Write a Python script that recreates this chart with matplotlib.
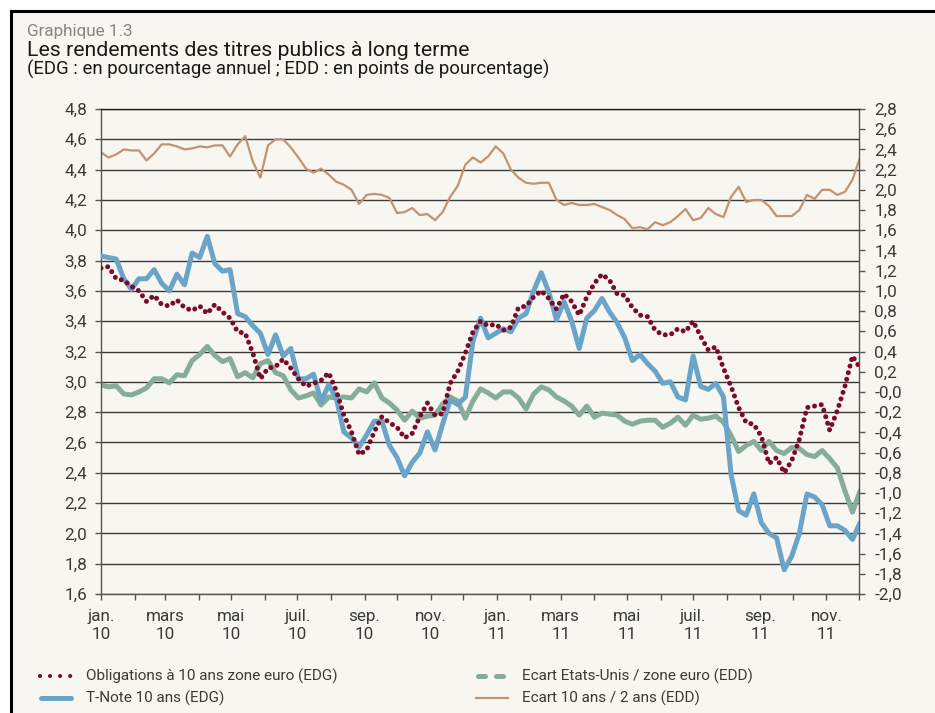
import matplotlib
matplotlib.use("Agg")
import matplotlib.pyplot as plt
import matplotlib.dates as mdates
from matplotlib.lines import Line2D
from matplotlib.patches import Rectangle
from matplotlib.ticker import FixedLocator, FuncFormatter
import numpy as np
import pandas as pd

# weekly observations, jan. 2010 -> dec. 2011
dates = pd.date_range("2010-01-01", periods=101, freq="7D")

# EDG, % annual
euro_10y = [
    3.75, 3.76, 3.68, 3.67, 3.63, 3.60, 3.53, 3.57, 3.51, 3.50,
    3.54, 3.49, 3.47, 3.50, 3.45, 3.51, 3.46, 3.42, 3.33, 3.32,
    3.19, 3.02, 3.09, 3.10, 3.15, 3.09,
    3.02, 2.97, 2.99, 3.01, 3.06, 2.94, 2.78, 2.67, 2.52, 2.55,
    2.67, 2.77, 2.73, 2.70, 2.63, 2.66, 2.77, 2.86, 2.78, 2.79,
    2.99, 3.07, 3.19, 3.33, 3.40,
    3.37, 3.38, 3.34, 3.36, 3.49, 3.50, 3.56, 3.60, 3.55, 3.48,
    3.58, 3.53, 3.44, 3.56, 3.65, 3.71, 3.67, 3.58, 3.57, 3.49,
    3.44, 3.43, 3.34, 3.31, 3.31,
    3.35, 3.33, 3.40, 3.30, 3.21, 3.23, 3.09, 2.97, 2.83, 2.73,
    2.72, 2.64, 2.46, 2.50, 2.40, 2.48, 2.62, 2.83, 2.84, 2.85,
    2.68, 2.81, 2.97, 3.17, 3.09,
]
tnote_10y = [
    3.83, 3.82, 3.81, 3.68, 3.61, 3.68, 3.68, 3.74, 3.65, 3.60,
    3.71, 3.64, 3.85, 3.82, 3.96, 3.78, 3.73, 3.74, 3.45, 3.43,
    3.37, 3.32, 3.18, 3.31, 3.17, 3.22,
    3.02, 3.02, 3.05, 2.87, 2.98, 2.89, 2.67, 2.63, 2.57, 2.65,
    2.74, 2.74, 2.58, 2.50, 2.38, 2.47, 2.53, 2.67, 2.55, 2.72,
    2.88, 2.85, 2.90, 3.27, 3.42,
    3.29, 3.32, 3.35, 3.33, 3.42, 3.45, 3.60, 3.72, 3.59, 3.41,
    3.53, 3.40, 3.22, 3.42, 3.47, 3.55, 3.46, 3.39, 3.29, 3.14,
    3.18, 3.12, 3.07, 2.99, 3.00,
    2.90, 2.88, 3.17, 2.97, 2.95, 2.99, 2.90, 2.39, 2.15, 2.12,
    2.26, 2.07, 2.00, 1.97, 1.76, 1.85, 2.00, 2.26, 2.24, 2.19,
    2.05, 2.05, 2.02, 1.96, 2.07,
]
# EDD, percentage points
spread_us_euro = [
    0.07, 0.05, 0.06, -0.02, -0.03, 0.00, 0.04, 0.13, 0.13, 0.09,
    0.17, 0.16, 0.31, 0.37, 0.45, 0.36, 0.30, 0.33, 0.15, 0.19,
    0.14, 0.28, 0.31, 0.19, 0.16, 0.02,
    -0.06, -0.04, -0.01, -0.13, -0.05, -0.06, -0.05, -0.06, 0.03, 0.00,
    0.09, -0.06, -0.11, -0.18, -0.28, -0.19, -0.26, -0.24, -0.23, -0.12,
    -0.05, -0.09, -0.26, -0.09, 0.03,
    -0.01, -0.06, 0.00, 0.00, -0.06, -0.17, -0.02, 0.05, 0.02, -0.05,
    -0.09, -0.14, -0.23, -0.14, -0.25, -0.21, -0.22, -0.23, -0.29, -0.32,
    -0.29, -0.28, -0.28, -0.35, -0.31,
    -0.25, -0.33, -0.23, -0.27, -0.26, -0.24, -0.30, -0.43, -0.59, -0.53,
    -0.49, -0.58, -0.49, -0.58, -0.61, -0.55, -0.56, -0.62, -0.64, -0.58,
    -0.66, -0.75, -0.98, -1.19, -0.98,
]
spread_10y_2y = [
    2.37, 2.32, 2.35, 2.40, 2.39, 2.39, 2.29, 2.36, 2.45, 2.45,
    2.43, 2.40, 2.41, 2.43, 2.42, 2.44, 2.44, 2.33, 2.45, 2.53,
    2.28, 2.12, 2.44, 2.50, 2.50, 2.42,
    2.32, 2.21, 2.17, 2.21, 2.15, 2.08, 2.05, 2.00, 1.86, 1.95,
    1.96, 1.95, 1.92, 1.77, 1.78, 1.82, 1.75, 1.76, 1.70, 1.78,
    1.93, 2.04, 2.25, 2.32, 2.27,
    2.33, 2.43, 2.36, 2.20, 2.12, 2.07, 2.06, 2.07, 2.07, 1.90,
    1.85, 1.87, 1.85, 1.85, 1.86, 1.83, 1.80, 1.75, 1.71, 1.62,
    1.63, 1.61, 1.68, 1.65, 1.68,
    1.74, 1.81, 1.70, 1.72, 1.82, 1.76, 1.73, 1.93, 2.03, 1.88,
    1.90, 1.90, 1.84, 1.74, 1.74, 1.74, 1.80, 1.95, 1.91, 2.00,
    2.00, 1.95, 1.98, 2.10, 2.32,
]

month_ticks = pd.date_range("2010-01-01", "2011-12-01", freq="MS")
x_labels = ["jan.\n10", "", "mars\n10", "", "mai\n10", "", "juil.\n10", "",
            "sep.\n10", "", "nov.\n10", "", "jan.\n11", "", "mars\n11", "",
            "mai\n11", "", "juil.\n11", "", "sep.\n11", "", "nov.\n11", ""]
left_ticks = np.round(np.arange(1.6, 4.81, 0.2), 1)
right_ticks = np.round(np.arange(-2.0, 2.81, 0.2), 1)
right_labels = ["-2,0", "-1,8", "-1,6", "-1,4", "-1,2", "-1,0", "-0,8", "-0,6",
                "-0,4", "-0,2", "-0,0", "0,2", "0,4", "0,6", "0,8", "1,0", "1,2",
                "1,4", "1,6", "1,8", "2,0", "2,2", "2,4", "2,6", "2,8"]

labels = ["Obligations à 10 ans zone euro (EDG)", "T-Note 10 ans (EDG)",
          "Ecart Etats-Unis / zone euro (EDD)", "Ecart 10 ans / 2 ans (EDD)"]

BG = "#f8f6f1"
RED = "#7b0c27"
BLUE = "#6aa5c9"
GREEN = "#86ad99"
BROWN = "#c49270"
TXT = "#3a3a3a"

plt.rcParams["font.family"] = ["Roboto", "DejaVu Sans"]

W, H = 935, 713
fig = plt.figure(figsize=(W / 100, H / 100), dpi=100, facecolor="white")
fig.add_artist(Rectangle((11 / W, 0), 1, 1 - 11 / H, transform=fig.transFigure,
                         facecolor=BG, edgecolor="none", zorder=-10))
fig.add_artist(Line2D([11 / W, 1], [1 - 11 / H] * 2, color="black", lw=2.2,
                      transform=fig.transFigure))
fig.add_artist(Line2D([11 / W] * 2, [0, 1 - 11 / H], color="black", lw=2.2,
                      transform=fig.transFigure))

fig.text(27 / W, 1 - 36 / H, "Graphique 1.3", fontsize=12.3, color="#858585", va="baseline")
fig.text(27 / W, 1 - 56 / H, "Les rendements des titres publics à long terme",
         fontsize=15.3, color="#1a1a1a", va="baseline")
fig.text(27 / W, 1 - 75 / H, "(EDG : en pourcentage annuel ; EDD : en points de pourcentage)",
         fontsize=13.4, color="#1a1a1a", va="baseline")

rect = [101 / W, 1 - 594 / H, (859 - 101) / W, (594 - 109) / H]
ax = fig.add_axes(rect)
ax2 = ax.twinx()
ax.set_zorder(ax2.get_zorder() + 1)
ax.patch.set_visible(False)
ax2.patch.set_visible(False)

# right axis: spreads + grid (drawn underneath the yields)
ax2.plot(dates, spread_us_euro, color=GREEN, lw=3.6, solid_joinstyle="round",
         solid_capstyle="round", zorder=2)
ax2.plot(dates, spread_10y_2y, color=BROWN, lw=1.6, zorder=2)
ax2.set_ylim(-2.0, 2.8)
ax2.yaxis.remove_overlapping_locs = False
ax2.yaxis.set_major_locator(FixedLocator(right_ticks))
ax2.set_yticklabels(right_labels)
ax2.set_yticks(np.arange(-2.0, 2.81, 0.3), minor=True)
ax2.grid(which="minor", axis="y", color="#3a3a3a", lw=1.0)
ax2.tick_params(axis="y", which="major", direction="out", length=4, width=1,
                color="#555555", labelsize=12.3, labelcolor=TXT, pad=7)
ax2.tick_params(axis="y", which="minor", length=0)
for s in ax2.spines.values():
    s.set_visible(False)

# left axis: yields
ax.plot(dates, tnote_10y, color=BLUE, lw=3.6, solid_joinstyle="round",
        solid_capstyle="round", zorder=3)
ax.plot(dates, euro_10y, color=RED, lw=3.6, linestyle=(0, (0.01, 1.35)),
        dash_capstyle="round", zorder=4)
ax.set_ylim(1.6, 4.8)
ax.set_xlim(month_ticks[0], month_ticks[-1])
ax.yaxis.set_major_locator(FixedLocator(left_ticks))
ax.yaxis.set_major_formatter(FuncFormatter(lambda v, p: f"{v:.1f}".replace(".", ",")))
ax.xaxis.set_major_locator(FixedLocator(mdates.date2num(month_ticks)))
ax.set_xticklabels(x_labels)
ax.tick_params(axis="y", direction="out", length=4, width=1, color="#555555",
               labelsize=12.3, labelcolor=TXT, pad=6)
ax.tick_params(axis="x", direction="out", length=4, width=1, color="#555555",
               labelsize=12.3, labelcolor=TXT, pad=7)
for side in ["left", "right", "bottom"]:
    ax.spines[side].set_color("#555555")
    ax.spines[side].set_linewidth(1.0)
ax.spines["top"].set_color("#222222")
ax.spines["top"].set_linewidth(1.0)

# legend
def fx(px):
    return px / W

def fy(py):
    return 1 - py / H

fig.add_artist(Line2D([fx(40), fx(71)], [fy(676)] * 2, color=RED, lw=3.0,
                      linestyle=(0, (0.01, 2.4)), dash_capstyle="round",
                      transform=fig.transFigure))
fig.add_artist(Line2D([fx(40.5), fx(70.5)], [fy(698)] * 2, color=BLUE, lw=3.6,
                      solid_capstyle="round", transform=fig.transFigure))
fig.add_artist(Line2D([fx(477.5), fx(502.5)], [fy(676)] * 2, color=GREEN, lw=3.6,
                      linestyle=(0, (1.4, 2.2)), dash_capstyle="round",
                      transform=fig.transFigure))
fig.add_artist(Line2D([fx(476), fx(508)], [fy(698)] * 2, color=BROWN, lw=1.6,
                      transform=fig.transFigure))
for (px, py), lab in zip([(86, 676), (86, 698), (522, 676), (522, 698)], labels):
    fig.text(fx(px), fy(py), lab, fontsize=11, color=TXT, va="center")

fig.savefig("out.png", dpi=100, facecolor=fig.get_facecolor())
